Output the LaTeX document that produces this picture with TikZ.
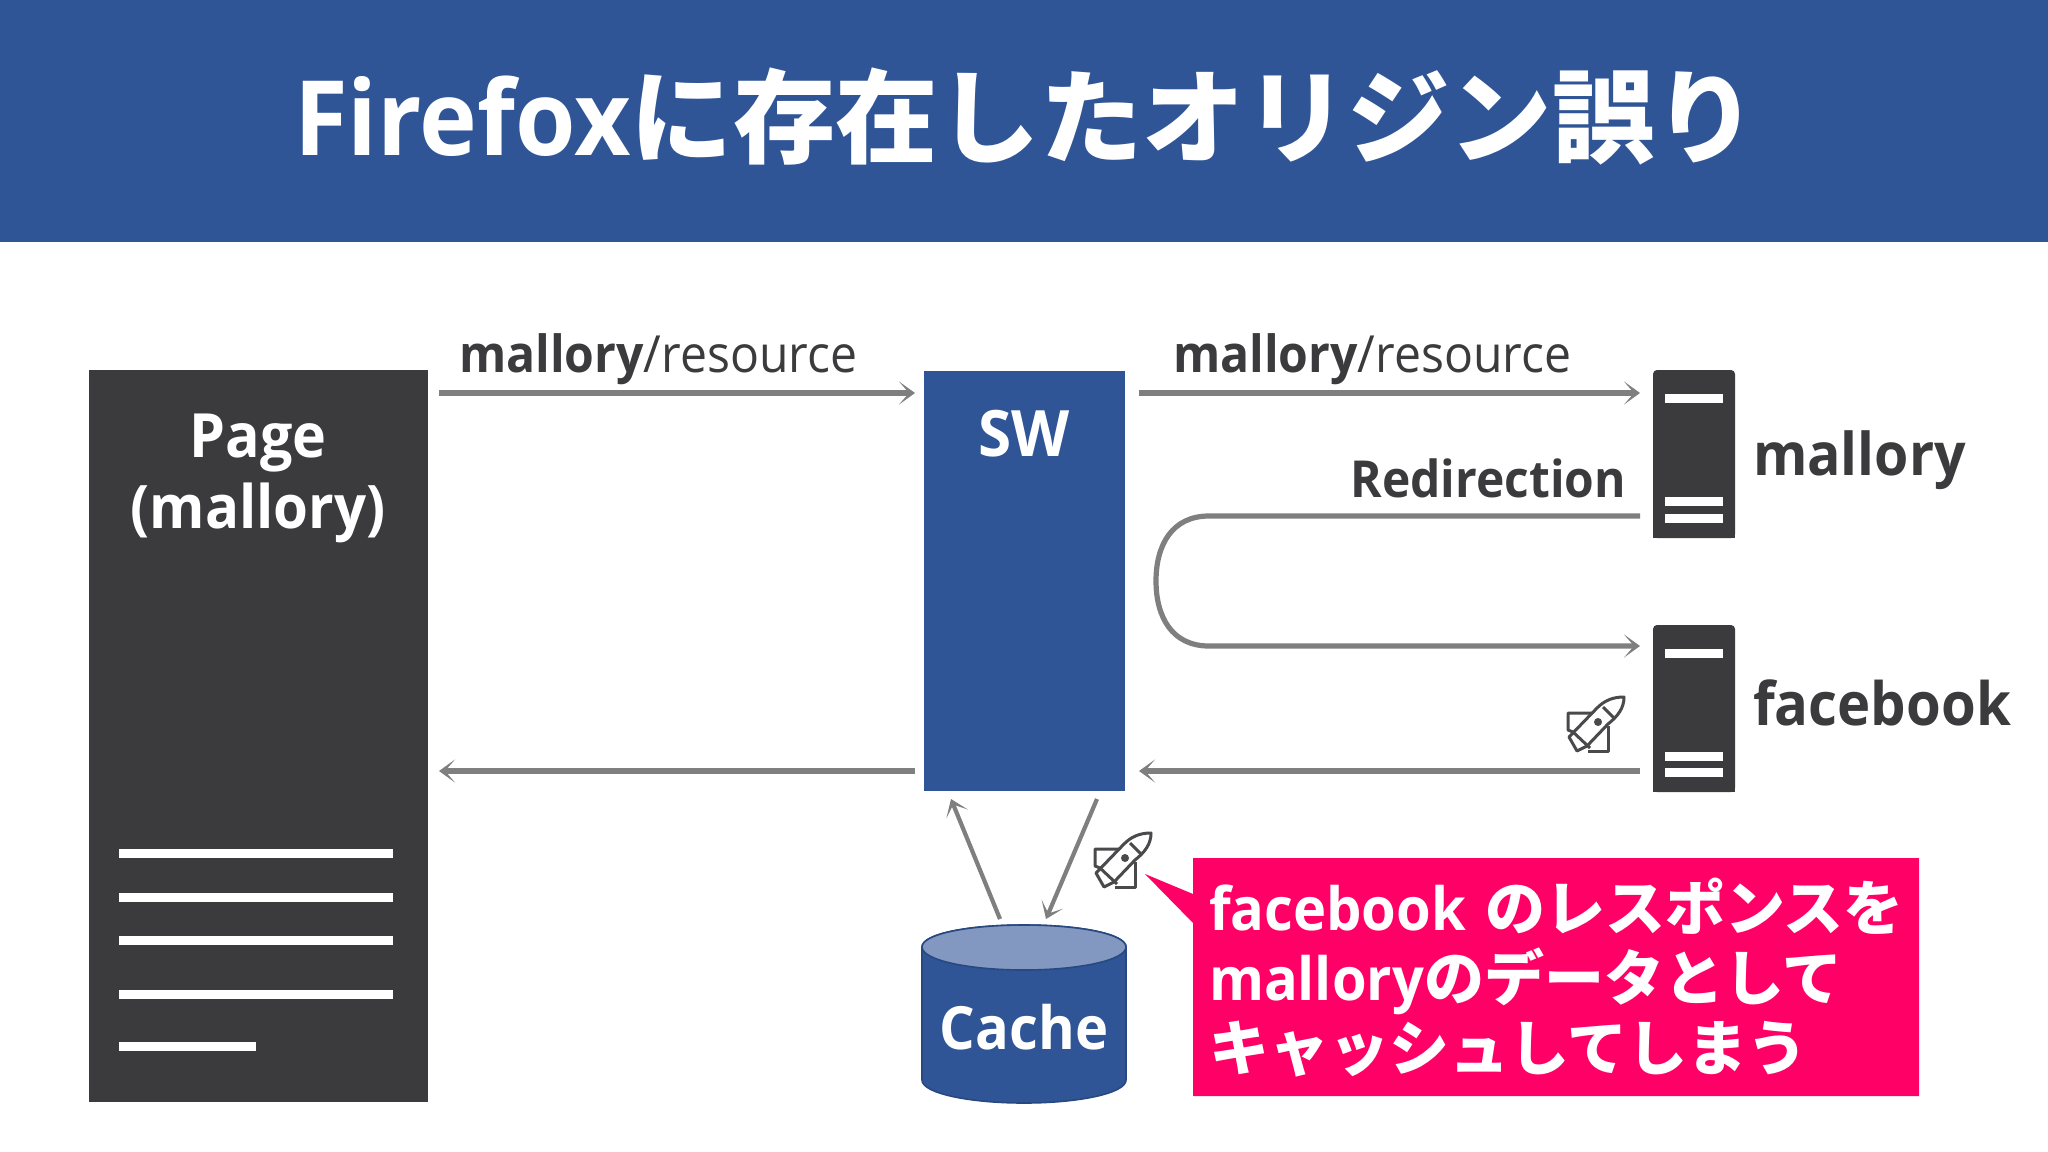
\documentclass[tikz,border=0pt]{standalone}
\usepackage{fontspec}
\setmainfont{Open Sans}[FakeStretch=0.94]
\newfontfamily\cjk{Noto Sans CJK JP}
\usetikzlibrary{arrows.meta}
\definecolor{hdr}{HTML}{2F5597}
\definecolor{ink}{HTML}{3B3A3C}
\definecolor{arw}{HTML}{7F7F7F}
\definecolor{pinkbox}{HTML}{FF0066}
\definecolor{captop}{HTML}{8298C0}
\definecolor{rockc}{HTML}{4A4A4C}
\newcommand{\fsz}[1]{\fontsize{#1}{#1}\selectfont}
\newcommand{\rocketshape}{%
  \draw[rockline] (84,17) .. controls (72,17) and (64,21) .. (57,28) -- (29,57) -- (37,71) -- (47,66) -- (68,44) .. controls (78,36) and (84,28) .. (84,17) -- cycle;
  \draw[rockline] (52,33) -- (28,33) -- (28,50) -- (33,52) -- (50,68);
  \draw[rockline] (68,46) -- (68,71) -- (48,71);
  \draw[rockline] (63,27) -- (74,38);
  \fill[rockc] (58,42) circle[radius=4];
}
\tikzset{
  x=0.5pt,y=-0.5pt,
  block/.style={inner sep=0pt,outer sep=0pt,rectangle,anchor=center},
  txt/.style={inner sep=0pt,outer sep=0pt,anchor=base,text=ink,font=\bfseries},
  whtxt/.style={inner sep=0pt,outer sep=0pt,anchor=base,text=white,font=\bfseries},
  arrowtip/.style={-{Stealth[length=8pt,width=11.5pt,inset=5pt]}},
  flow/.style={draw=arw,line width=2.6pt,arrowtip},
  thinflow/.style={draw=arw,line width=2.1pt,arrowtip},
  rockline/.style={draw=rockc,line width=1.5pt,line join=round,fill=none},
}
\begin{document}
\begin{tikzpicture}
\useasboundingbox (0,0) rectangle (2048,1151);
\fill[white] (0,0) rectangle (2048,1151);
% header
\node[block,fill=hdr,minimum width=1024pt,minimum height=121pt] (header) at (1024,121) {};
\node[whtxt,anchor=base west] (title) at (294,155) {\fsz{52}Firefox{\cjk\fsz{51.2}に存在したオリジン誤り}};
% page
\node[block,fill=ink,minimum width=169.5pt,minimum height=366pt] (page) at (258,736) {};
\node[whtxt] (pagelabelA) at (258,457) {\fsz{30.5}Page};
\node[whtxt] (pagelabelB) at (258,528) {\fsz{30}(mallory)};
\foreach \yy/\xx in {853/393,897/393,940/393,994/393,1046/256}{
  \fill[white] (119,\yy-4.5) rectangle (\xx,\yy+4.5);
}
% SW
\node[block,fill=hdr,minimum width=100.5pt,minimum height=210pt] (sw) at (1024,581) {};
\node[whtxt] (swlabel) at (1024,456) {\fsz{32}SW};
% servers
\node[block,fill=ink,rounded corners=2pt,minimum width=41pt,minimum height=84pt] (srvA) at (1694,454) {};
\node[block,fill=ink,rounded corners=2pt,minimum width=41pt,minimum height=83.5pt] (srvB) at (1694,708.5) {};
\fill[ink] (1653,500) rectangle (1735,538);
\fill[ink] (1653,750) rectangle (1735,792);
\foreach \yy in {394,497,514,649,752,768}{
  \fill[white] (1665,\yy) rectangle (1723,\yy+9);
}
\node[txt,anchor=base west] (mallorylabel) at (1753,475) {\fsz{29.5}mallory};
\node[txt,anchor=base west] (facebooklabel) at (1753,725) {\fsz{29.9}facebook};
% top labels
\node[txt,anchor=base west] (resA) at (459,372) {\fsz{25.6}mallory\mdseries/resource};
\node[txt,anchor=base west] (resB) at (1173,372) {\fsz{25.6}mallory\mdseries/resource};
\node[txt,anchor=base east] (redir) at (1626,497) {\fsz{25.5}Redirection};
% connectors
\coordinate (pageR) at (439,393);
\coordinate (swL) at (915,393);
\coordinate (swR) at (1139,393);
\coordinate (srvAL) at (1640,393);
\coordinate (rdS) at (1640,516);
\coordinate (rdE) at (1640,646);
\coordinate (backS) at (1640,771);
\coordinate (backE) at (1139,771);
\coordinate (backS2) at (915,771);
\coordinate (backE2) at (439,771);
\coordinate (caUpS) at (1000,919);
\coordinate (caUpE) at (951,799);
\coordinate (caDnS) at (1097,799);
\coordinate (caDnE) at (1046,919);
\draw[flow] (pageR) -- (swL);
\draw[flow] (swR) -- (srvAL);
\draw[flow] (rdS) -- (1209,516) .. controls (1172,516) and (1156,545) .. (1156,581) .. controls (1156,617) and (1172,646) .. (1209,646) -- (rdE);
\draw[flow] (backS) -- (backE);
\draw[flow] (backS2) -- (backE2);
\draw[thinflow] (caUpS) -- (caUpE);
\draw[thinflow] (caDnS) -- (caDnE);
% rockets
\begin{scope}[shift={(1540,680)}]
\rocketshape
\end{scope}
\begin{scope}[shift={(1067,816)}]
\rocketshape
\end{scope}
% cache
\path[fill=hdr,draw=hdr!85!black,line width=0.8pt] (922,947) -- (922,1080) .. controls (922,1093) and (968,1103) .. (1024,1103) .. controls (1080,1103) and (1126,1093) .. (1126,1080) -- (1126,947) .. controls (1126,934) and (1080,925) .. (1024,925) .. controls (968,925) and (922,934) .. (922,947) -- cycle;
\path[fill=captop,draw=hdr!85!black,line width=0.8pt] (922,947) .. controls (922,960) and (968,970) .. (1024,970) .. controls (1080,970) and (1126,960) .. (1126,947) .. controls (1126,934) and (1080,925) .. (1024,925) .. controls (968,925) and (922,934) .. (922,947) -- cycle;
\node[whtxt] (cachelabel) at (1024,1049) {\fsz{29.8}Cache};
% callout
\fill[pinkbox] (1193,858) -- (1919,858) -- (1919,1096) -- (1193,1096) -- (1193,923) -- (1145,874) -- (1193,894) -- cycle;
\node[whtxt,anchor=base west] (callA) at (1209,930) {\fsz{29.8}facebook\hspace{9.5pt}{\cjk\fsz{30}のレスポンスを}};
\node[whtxt,anchor=base west] (callB) at (1209,1000) {\fsz{29.8}mallory{\cjk\fsz{30}のデータとして}};
\node[whtxt,anchor=base west] (callC) at (1209,1070) {{\cjk\fsz{30}キャッシュしてしまう}};
\end{tikzpicture}
\end{document}
